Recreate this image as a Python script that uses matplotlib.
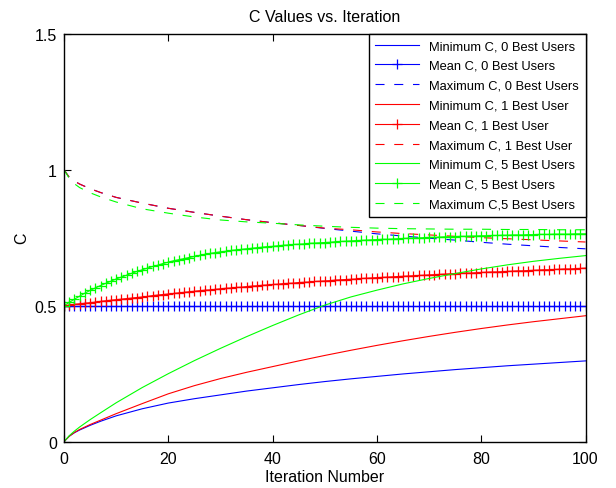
import matplotlib
matplotlib.use("Agg")
import matplotlib.pyplot as plt

plt.rcParams['font.family'] = ['Liberation Sans', 'DejaVu Sans']
plt.rcParams['lines.scale_dashes'] = False

# Iterations where the '+' markers sit (every iteration)
iters = list(range(0, 101))

# Sparse iterations used for the plain / dashed curves
iters_s = [0, 1, 2, 3, 5, 7, 10, 15, 20, 25, 30, 35, 40, 45, 50,
           55, 60, 65, 70, 75, 80, 85, 90, 95, 100]

# ---- 0 best users (blue) ----
min_c0 = [0.0, 0.020, 0.033, 0.043, 0.060, 0.075, 0.095, 0.121, 0.142, 0.158,
          0.172, 0.186, 0.198, 0.210, 0.221, 0.231, 0.240, 0.249, 0.257, 0.265,
          0.272, 0.279, 0.285, 0.291, 0.297]
mean_c0 = [0.5] * 101
max_c0 = [1.0, 0.972, 0.958, 0.947, 0.930, 0.916, 0.898, 0.877, 0.858, 0.843,
          0.829, 0.816, 0.805, 0.795, 0.784, 0.774, 0.764, 0.756, 0.748, 0.741,
          0.733, 0.726, 0.720, 0.714, 0.709]

# ---- 1 best user (red) ----
min_c1 = [0.0, 0.020, 0.034, 0.045, 0.063, 0.079, 0.103, 0.140, 0.176, 0.206,
          0.232, 0.255, 0.276, 0.297, 0.317, 0.336, 0.354, 0.371, 0.387, 0.402,
          0.416, 0.429, 0.441, 0.452, 0.463]
mean_c1 = [0.500, 0.502, 0.505, 0.507, 0.509, 0.511, 0.513, 0.516, 0.518, 0.520,
           0.522, 0.524, 0.526, 0.528, 0.530, 0.532, 0.534, 0.537, 0.539, 0.541,
           0.543, 0.545, 0.547, 0.549, 0.551, 0.553, 0.555, 0.557, 0.558, 0.560,
           0.562, 0.564, 0.565, 0.567, 0.568, 0.570, 0.572, 0.573, 0.575, 0.576,
           0.578, 0.579, 0.581, 0.582, 0.583, 0.585, 0.586, 0.587, 0.589, 0.590,
           0.591, 0.592, 0.594, 0.595, 0.596, 0.597, 0.598, 0.600, 0.601, 0.602,
           0.603, 0.604, 0.605, 0.606, 0.607, 0.608, 0.609, 0.610, 0.611, 0.612,
           0.613, 0.614, 0.615, 0.616, 0.617, 0.618, 0.619, 0.620, 0.620, 0.621,
           0.622, 0.623, 0.624, 0.624, 0.625, 0.626, 0.627, 0.628, 0.628, 0.629,
           0.630, 0.631, 0.632, 0.632, 0.633, 0.634, 0.635, 0.635, 0.636, 0.637,
           0.638]
max_c1 = [1.0, 0.972, 0.958, 0.947, 0.930, 0.916, 0.898, 0.877, 0.858, 0.843,
          0.829, 0.816, 0.805, 0.795, 0.785, 0.779, 0.771, 0.765, 0.760, 0.755,
          0.750, 0.746, 0.742, 0.738, 0.734]

# ---- 5 best users (green) ----
min_c5 = [0.0, 0.022, 0.039, 0.054, 0.081, 0.106, 0.143, 0.199, 0.250, 0.298,
          0.343, 0.386, 0.427, 0.466, 0.502, 0.532, 0.557, 0.580, 0.600, 0.618,
          0.635, 0.650, 0.663, 0.674, 0.684]
mean_c5 = [0.500, 0.512, 0.524, 0.535, 0.546, 0.556, 0.565, 0.574, 0.582, 0.590,
           0.598, 0.605, 0.612, 0.619, 0.626, 0.632, 0.638, 0.644, 0.649, 0.655,
           0.660, 0.665, 0.669, 0.673, 0.677, 0.681, 0.685, 0.689, 0.692, 0.695,
           0.698, 0.700, 0.703, 0.705, 0.707, 0.709, 0.711, 0.713, 0.715, 0.717,
           0.718, 0.720, 0.722, 0.723, 0.725, 0.726, 0.727, 0.729, 0.730, 0.731,
           0.732, 0.733, 0.735, 0.736, 0.737, 0.738, 0.739, 0.740, 0.741, 0.742,
           0.743, 0.744, 0.744, 0.745, 0.746, 0.747, 0.748, 0.748, 0.749, 0.750,
           0.751, 0.751, 0.752, 0.753, 0.753, 0.754, 0.755, 0.755, 0.756, 0.756,
           0.757, 0.757, 0.758, 0.758, 0.759, 0.759, 0.760, 0.760, 0.760, 0.761,
           0.761, 0.762, 0.762, 0.762, 0.763, 0.763, 0.763, 0.763, 0.764, 0.764,
           0.764]
max_c5 = [1.0, 0.968, 0.948, 0.934, 0.915, 0.900, 0.881, 0.856, 0.840, 0.826,
          0.815, 0.808, 0.803, 0.797, 0.792, 0.788, 0.785, 0.783, 0.782, 0.781,
          0.781, 0.780, 0.780, 0.779, 0.779]

labels = ['Minimum C, 0 Best Users', 'Mean C, 0 Best Users', 'Maximum C, 0 Best Users',
          'Minimum C, 1 Best User', 'Mean C, 1 Best User', 'Maximum C, 1 Best User',
          'Minimum C, 5 Best Users', 'Mean C, 5 Best Users', 'Maximum C,5 Best Users']

x_ticks = [0, 20, 40, 60, 80, 100]
y_ticks = [0, 0.5, 1, 1.5]
y_tick_labels = ['0', '0.5', '1', '1.5']

fig = plt.figure(figsize=(6.16, 4.89), dpi=100)
ax = fig.add_axes([0.1039, 0.0947, 0.8466, 0.8345])

lw = 0.8
dash = (0, (6.5, 7.0))
groups = [('#0000ff', min_c0, mean_c0, max_c0),
          ('#ff0000', min_c1, mean_c1, max_c1),
          ('#00ff00', min_c5, mean_c5, max_c5)]
k = 0
for col, mn, me, mx in groups:
    ax.plot(iters_s, mn, color=col, lw=lw, label=labels[k])
    ax.plot(iters, me, color=col, lw=lw, marker='+', markersize=6.5,
            markeredgewidth=0.9, label=labels[k + 1])
    ax.plot(iters_s, mx, color=col, lw=lw, linestyle=dash, label=labels[k + 2])
    k += 3

ax.set_xlim(0, 100)
ax.set_ylim(0, 1.5)
ax.set_xticks(x_ticks)
ax.set_yticks(y_ticks)
ax.set_yticklabels(y_tick_labels)
ax.tick_params(direction='in', length=5, width=0.8, top=True, right=True,
               labelsize=11.5)
ax.tick_params(axis='x', pad=7)
ax.tick_params(axis='y', pad=5)
for s in ax.spines.values():
    s.set_linewidth(1.0)
    s.set_color('black')

ax.set_title('C Values vs. Iteration', fontsize=11.5, pad=9)
ax.set_xlabel('Iteration Number', fontsize=11.5, labelpad=2)
ax.set_ylabel('C', fontsize=11.5, labelpad=4)

leg = ax.legend(loc='upper right', borderaxespad=0, fancybox=False,
                edgecolor='black', framealpha=1, fontsize=9.3,
                handlelength=3.4, handletextpad=0.8, labelspacing=0.6,
                borderpad=0.5, numpoints=1)
leg.get_frame().set_linewidth(1.0)

fig.savefig('out.png', dpi=100)
